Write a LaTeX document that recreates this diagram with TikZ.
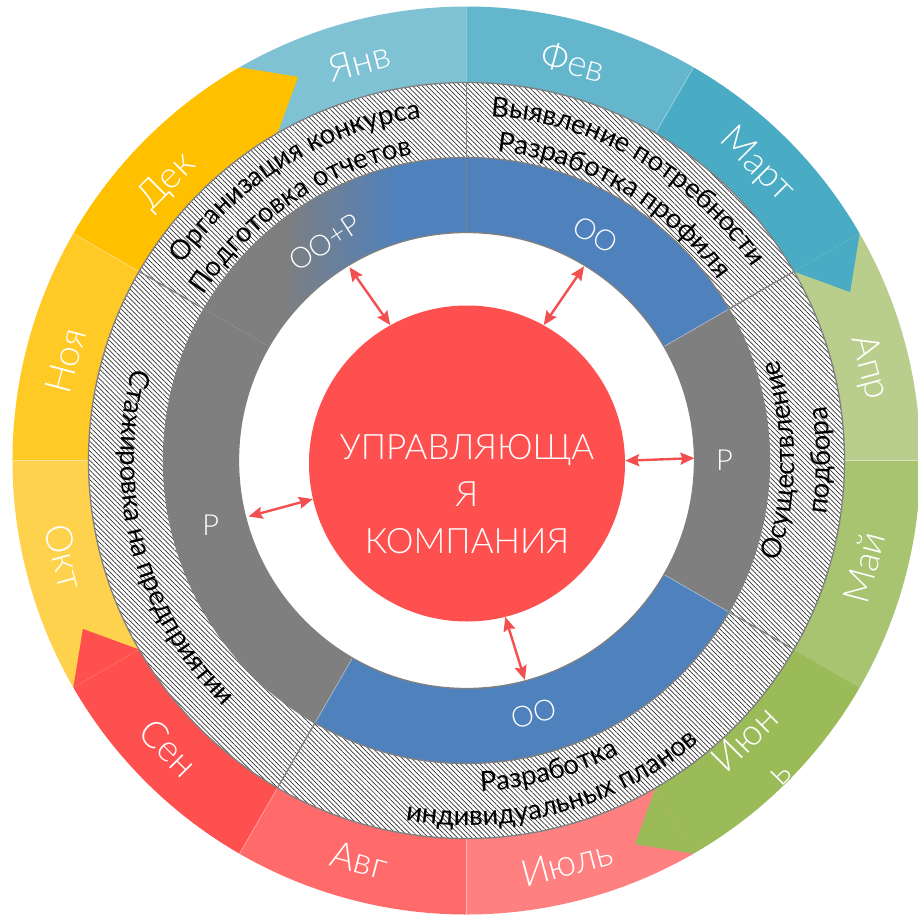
\documentclass[tikz,border=0pt]{standalone}
\usepackage{fontspec}
\usetikzlibrary{patterns.meta,decorations.text,arrows.meta}
\setmainfont{Open Sans}
\IfFontExistsTF{Lato Light}{\newfontfamily\lightf{Lato Light}}{%
  \IfFontExistsTF{Fira Sans Light}{\newfontfamily\lightf{Fira Sans Light}}{\newfontfamily\lightf{Open Sans}}}
\newfontfamily\regf{Lato}
\newcommand\hf{\regf\fontsize{27.5}{30}\selectfont}
\definecolor{cJan}{RGB}{127,194,211}
\definecolor{cFeb}{RGB}{99,182,204}
\definecolor{cMar}{RGB}{74,171,197}
\definecolor{cApr}{RGB}{185,206,141}
\definecolor{cMay}{RGB}{168,196,113}
\definecolor{cJun}{RGB}{155,187,89}
\definecolor{cJul}{RGB}{255,128,128}
\definecolor{cAug}{RGB}{255,107,107}
\definecolor{cSep}{RGB}{255,80,80}
\definecolor{cOct}{RGB}{255,210,77}
\definecolor{cNov}{RGB}{255,201,38}
\definecolor{cDec}{RGB}{255,192,0}
\definecolor{cGray}{RGB}{127,127,127}
\definecolor{cBlue}{RGB}{79,129,189}
\definecolor{cRed}{RGB}{255,80,80}
\definecolor{cLine}{RGB}{128,128,128}
\definecolor{cArrow}{RGB}{242,80,80}
\pgfdeclarehorizontalshading{oop}{100bp}{color(0bp)=(cGray); color(40bp)=(cGray); color(62bp)=(cBlue); color(100bp)=(cBlue)}
\begin{document}
\begin{tikzpicture}[x=1pt,y=1pt,
  mon/.style={text=white,font=\lightf\fontsize{37}{48}\selectfont,inner sep=0pt,align=center},
  inl/.style={text=white,font=\lightf\fontsize{29}{32}\selectfont,inner sep=0pt},
  ctext/.style={text=white,font=\lightf\fontsize{35}{47}\selectfont,inner sep=0pt,align=center},
  sep/.style={draw=cLine,line width=1.3pt},
  faint/.style={draw=white,draw opacity=0.35,line width=0.8pt},
  arr/.style={draw=cArrow,line width=2.4pt,{Stealth[length=14pt,width=12pt,inset=2pt]}-{Stealth[length=14pt,width=12pt,inset=2pt]}},
  htext/.style={decorate,decoration={text along path,text align=center,text={|\hf|#1}}}
]
\useasboundingbox (-466.5pt,-453.5pt) rectangle (451.5pt,460.5pt);
\fill[white] (-466.5pt,-453.5pt) rectangle (451.5pt,460.5pt);
% month ring
\foreach \a/\b/\c in {90/120/cJan,60/90/cFeb,30/60/cMar,0/30/cApr,-30/0/cMay,-60/-30/cJun,-90/-60/cJul,-120/-90/cAug,-150/-120/cSep,-180/-150/cOct,150/180/cNov,120/150/cDec}
  \fill[\c] (\a:454pt) arc[start angle=\a,end angle=\b,radius=454pt] -- (\b:378pt) arc[start angle=\b,end angle=\a,radius=378pt] -- cycle;
\fill[cDec] (120:454pt) -- (113.7:419pt) -- (120:378pt) -- cycle;
\fill[cMar] (30:454pt) -- (23.7:419pt) -- (30:378pt) -- cycle;
\fill[cJun] (-60:454pt) -- (-66.3:419pt) -- (-60:378pt) -- cycle;
\fill[cSep] (-150:454pt) -- (-156.3:419pt) -- (-150:378pt) -- cycle;
\foreach \a in {60,0,-90,-120,-180,150}
  \draw[faint] (\a:378pt) -- (\a:454pt);
% month labels
\node[mon,rotate=15]  (jan) at (105:413pt) {Янв};
\node[mon,rotate=-15] (feb) at (75:413pt) {Фев};
\node[mon,rotate=-45] (mar) at (45.5:414pt) {Март};
\node[mon,rotate=-75] (apr) at (13:413pt) {Апр};
\node[mon,rotate=75]  (may) at (-15:412pt) {Май};
\node[mon,rotate=45]  (jun) at (-45:417pt) {Июн\\ь};
\node[mon,rotate=15]  (jul) at (-76:415pt) {Июль};
\node[mon,rotate=-15] (aug) at (-105:414pt) {Авг};
\node[mon,rotate=-45] (sep) at (-136:414pt) {Сен};
\node[mon,rotate=-75] (oct) at (-166.5:413pt) {Окт};
\node[mon,rotate=75]  (nov) at (166:413pt) {Ноя};
\node[mon,rotate=45]  (dec) at (137:409pt) {Дек};
% hatched ring
\fill[white] (0,0) circle[radius=378pt];
\fill[pattern={Lines[angle=-45,distance=3.4pt,line width=0.7pt]},pattern color=black!80,even odd rule] (0,0) circle[radius=378pt] (0,0) circle[radius=303pt];
% inner ring
\shade[shading=oop] (90:303pt) arc[start angle=90,end angle=150,radius=303pt] -- (150:228pt) arc[start angle=150,end angle=90,radius=228pt] -- cycle;
\fill[cBlue] (30:303pt) arc[start angle=30,end angle=90,radius=303pt] -- (90:228pt) arc[start angle=90,end angle=30,radius=228pt] -- cycle;
\fill[cGray] (-30:303pt) arc[start angle=-30,end angle=30,radius=303pt] -- (30:228pt) arc[start angle=30,end angle=-30,radius=228pt] -- cycle;
\fill[cBlue] (-120:303pt) arc[start angle=-120,end angle=-30,radius=303pt] -- (-30:228pt) arc[start angle=-30,end angle=-120,radius=228pt] -- cycle;
\fill[cGray] (150:303pt) arc[start angle=150,end angle=240,radius=303pt] -- (240:228pt) arc[start angle=240,end angle=150,radius=228pt] -- cycle;
\foreach \a in {30,-30,-120}
  \draw[faint] (\a:228pt) -- (\a:303pt);
% borders and dividers
\draw[sep] (0,0) circle[radius=378pt];
\draw[sep] (0,0) circle[radius=303pt];
\draw[sep] (0,0) circle[radius=228pt];
\foreach \a in {30,-30,-120,150}
  \draw[sep] (\a:303pt) -- (\a:378pt);
\draw[sep] (90:228pt) -- (90:378pt);
% inner ring labels
\node[inl,rotate=33]  (oop) at (123:260pt) {ОО+Р};
\node[inl,rotate=-30] (oo1) at (60.3:260pt) {ОО};
\node[inl]            (p1)  at (0:258pt) {Р};
\node[inl,rotate=15]  (oo2) at (-75:262pt) {ОО};
\node[inl]            (p2)  at (194.3:264pt) {Р};
% hatched texts
\path[htext={Организация конкурса}] (161.5:345pt) arc[start angle=161.5,end angle=81.5,radius=345pt];
\path[htext={Подготовка отчетов}] (164:310pt) arc[start angle=164,end angle=84,radius=310pt];
\path[htext={Выявление потребности}] (100:345pt) arc[start angle=100,end angle=20,radius=345pt];
\path[htext={Разработка профиля}] (100:310pt) arc[start angle=100,end angle=20,radius=310pt];
\path[htext={Осуществление}] (-40:328pt) arc[start angle=-40,end angle=40,radius=328pt];
\path[htext={подбора}] (-40:364pt) arc[start angle=-40,end angle=40,radius=364pt];
\path[htext={Разработка}] (-115:331pt) arc[start angle=-115,end angle=-35,radius=331pt];
\path[htext={индивидуальных планов}] (-115:365pt) arc[start angle=-115,end angle=-35,radius=365pt];
\path[htext={Стажировка на предприятии}] (150:346pt) arc[start angle=150,end angle=240,radius=346pt];
% centre
\node[circle,fill=cRed,minimum size=316pt,inner sep=0pt] (uk) at (0.5pt,-3pt) {};
\node[ctext] (ukt) at (0.5pt,-33.5pt) {УПРАВЛЯЮЩА\\Я\\КОМПАНИЯ};
% arrows
\coordinate (a1) at (121.2:226pt);
\coordinate (a2) at (58.8:227pt);
\coordinate (a3) at (0.6:228pt);
\coordinate (a4) at (-75.1:227pt);
\coordinate (a5) at (194.4:225pt);
\draw[arr] (uk.119) -- (a1);
\draw[arr] (uk.61) -- (a2);
\draw[arr] (uk.1) -- (a3);
\draw[arr] (uk.-76) -- (a4);
\draw[arr] (uk.193) -- (a5);
\end{tikzpicture}
\end{document}
